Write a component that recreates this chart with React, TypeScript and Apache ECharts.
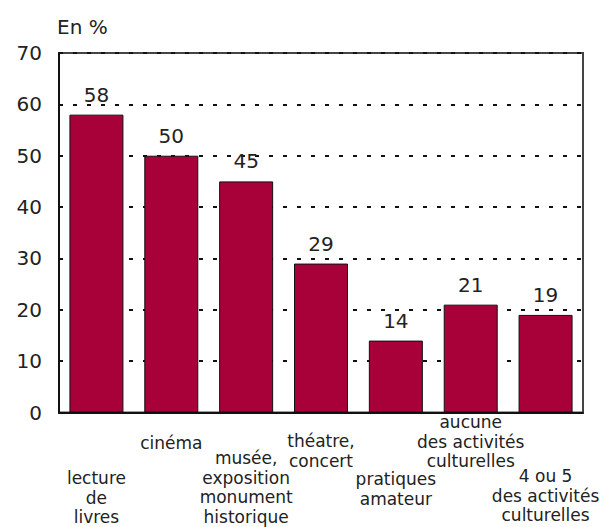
import React, { useEffect, useRef } from "react";
import * as echarts from "echarts";

const categories = [
  "lecture\nde\nlivres",
  "cinéma",
  "musée,\nexposition\nmonument\nhistorique",
  "théatre,\nconcert",
  "pratiques\namateur",
  "aucune\ndes activités\nculturelles",
  "4 ou 5\ndes activités\nculturelles",
];
const values = [58, 50, 45, 29, 14, 21, 19];
const labelOffsets = [58, 23, 38, 21, 59, 2, 56];
const yTicks = { min: 0, max: 70, interval: 10 };

export default function App() {
  const ref = useRef<HTMLDivElement>(null);
  useEffect(() => {
    if (!ref.current) return;
    const chart = echarts.init(ref.current, null, { renderer: "svg" });
    const font = "DejaVu Sans, Verdana, sans-serif";
    chart.setOption({
      animation: false,
      grid: {
        left: 59,
        right: 28,
        top: 53,
        bottom: 113,
        show: true,
        borderColor: "#444",
        borderWidth: 2,
      },
      xAxis: {
        type: "category",
        data: categories.map((c, i) => ({
          value: c,
          textStyle: { padding: [labelOffsets[i], 0, 0, 0] },
        })),
        axisLine: { show: true, lineStyle: { color: "#111", width: 2 } },
        axisTick: { show: false },
        axisLabel: {
          interval: 0,
          margin: -2,
          fontFamily: font,
          fontSize: 17,
          lineHeight: 19.5,
          color: "#222",
        },
      },
      yAxis: {
        type: "value",
        min: yTicks.min,
        max: yTicks.max,
        interval: yTicks.interval,
        name: "En %",
        nameLocation: "end",
        nameGap: 26,
        nameTextStyle: {
          fontFamily: font,
          fontSize: 20,
          color: "#222",
          align: "left",
          verticalAlign: "middle",
          padding: [0, 0, 0, -2],
        },
        axisLine: { show: true, lineStyle: { color: "#111", width: 2 } },
        axisTick: { show: true, inside: true, length: 4, lineStyle: { color: "#111", width: 2 } },
        axisLabel: {
          margin: 17,
          fontFamily: font,
          fontSize: 20,
          color: "#222",
        },
        splitLine: {
          show: true,
          lineStyle: { color: "#111", width: 2, type: [4, 10] },
        },
      },
      series: [
        {
          type: "bar",
          data: values,
          barWidth: 54,
          itemStyle: { color: "#A80038", borderColor: "#111", borderWidth: 1 },
          label: {
            show: true,
            position: "top",
            distance: 10,
            fontFamily: font,
            fontSize: 20,
            color: "#222",
          },
        },
      ],
    });
    return () => chart.dispose();
  }, []);
  return (
    <div
      ref={ref}
      style={{ position: "absolute", left: 0, top: 0, width: 611, height: 527 }}
    />
  );
}
